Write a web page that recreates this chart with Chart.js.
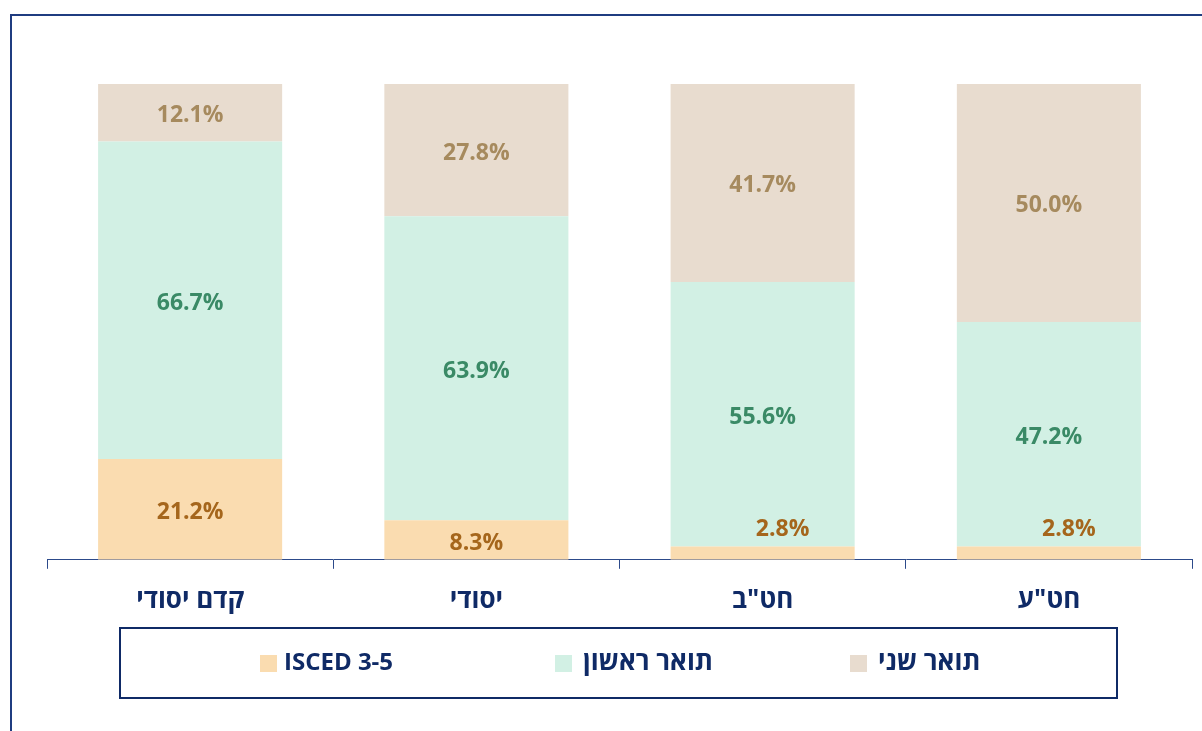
<!DOCTYPE html>
<html>
<head>
<meta charset="utf-8">
<script src="https://cdn.jsdelivr.net/npm/chart.js@4"></script>
<style>
  html, body { margin: 0; padding: 0; background: #ffffff; }
  #wrap { position: relative; width: 1202px; height: 731px; }
  canvas { display: block; }
</style>
</head>
<body>
<div id="wrap"><canvas id="c" width="1202" height="731"></canvas></div>
<script>
// ---- data ----
const categories = ['קדם יסודי', 'יסודי', 'חט"ב', 'חט"ע'];
const seriesNames = ['ISCED 3-5', 'תואר ראשון', 'תואר שני'];
const iscedValues = [21.2, 8.3, 2.8, 2.8];
const bachelorValues = [66.7, 63.9, 55.6, 47.2];
const masterValues = [12.1, 27.8, 41.7, 50.0];

// ---- styles ----
const barColors = ['#FADCB0', '#D2F0E4', '#E8DCCF'];
const labelColors = ['#A5661C', '#3A8A66', '#A68A5E'];
const navy = '#0F2A66';
const fontFamily = '"Open Sans", "DejaVu Sans", "Noto Sans", sans-serif';

const frameAndLegend = {
  id: 'frameAndLegend',
  afterDraw(chart) {
    const ctx = chart.ctx;
    ctx.save();
    // outer frame
    ctx.strokeStyle = '#1F3C80';
    ctx.lineWidth = 2;
    ctx.strokeRect(11, 15, 1300, 900);
    // legend box
    ctx.strokeStyle = navy;
    ctx.lineWidth = 2;
    ctx.strokeRect(120, 628, 997, 70);
    // legend items
    ctx.textBaseline = 'middle';
    ctx.textAlign = 'left';
    chart.data.datasets.forEach((ds, i) => {
      const x = 260 + i * 295;
      const y = 663;
      ctx.fillStyle = ds.backgroundColor;
      ctx.fillRect(x, y - 8, 17, 17);
      ctx.fillStyle = navy;
      ctx.font = 'bold ' + (i === 0 ? 24 : 26) + 'px ' + fontFamily;
      ctx.fillText(ds.label, x + (i === 0 ? 24 : 28), y);
    });
    ctx.restore();
  }
};

const valueLabels = {
  id: 'valueLabels',
  afterDatasetsDraw(chart) {
    const ctx = chart.ctx;
    ctx.save();
    ctx.font = 'bold 23px ' + fontFamily;
    ctx.textAlign = 'center';
    ctx.textBaseline = 'middle';
    chart.data.datasets.forEach((ds, di) => {
      const meta = chart.getDatasetMeta(di);
      meta.data.forEach((bar, i) => {
        const v = ds.data[i];
        const h = Math.abs(bar.base - bar.y);
        let x = bar.x, y = (bar.y + bar.base) / 2 + 3;
        if (h < 24) { x = bar.x + 20; y = bar.y - 17; }
        ctx.fillStyle = labelColors[di];
        ctx.fillText(v.toFixed(1) + '%', x, y);
      });
    });
    ctx.restore();
  }
};

new Chart(document.getElementById('c'), {
  type: 'bar',
  data: {
    labels: categories,
    datasets: [
      { label: seriesNames[0], data: iscedValues, backgroundColor: barColors[0] },
      { label: seriesNames[1], data: bachelorValues, backgroundColor: barColors[1] },
      { label: seriesNames[2], data: masterValues, backgroundColor: barColors[2] }
    ]
  },
  options: {
    responsive: false,
    animation: false,
    devicePixelRatio: 1,
    layout: { padding: { top: 84, left: 47, right: 10, bottom: 99 } },
    datasets: { bar: { categoryPercentage: 0.643, barPercentage: 1.0, borderWidth: 0 } },
    plugins: { legend: { display: false }, tooltip: { enabled: false } },
    scales: {
      x: {
        stacked: true,
        grid: { display: true, drawOnChartArea: false, drawTicks: true, tickLength: 9, color: '#2C4A8A', offset: true },
        border: { display: true, color: '#2C4A8A', width: 1 },
        ticks: { color: navy, padding: 16, font: { family: fontFamily, size: 26, weight: 'bold' } }
      },
      y: {
        stacked: true,
        display: false,
        min: 0,
        max: 100
      }
    }
  },
  plugins: [valueLabels, frameAndLegend]
});
</script>
</body>
</html>
